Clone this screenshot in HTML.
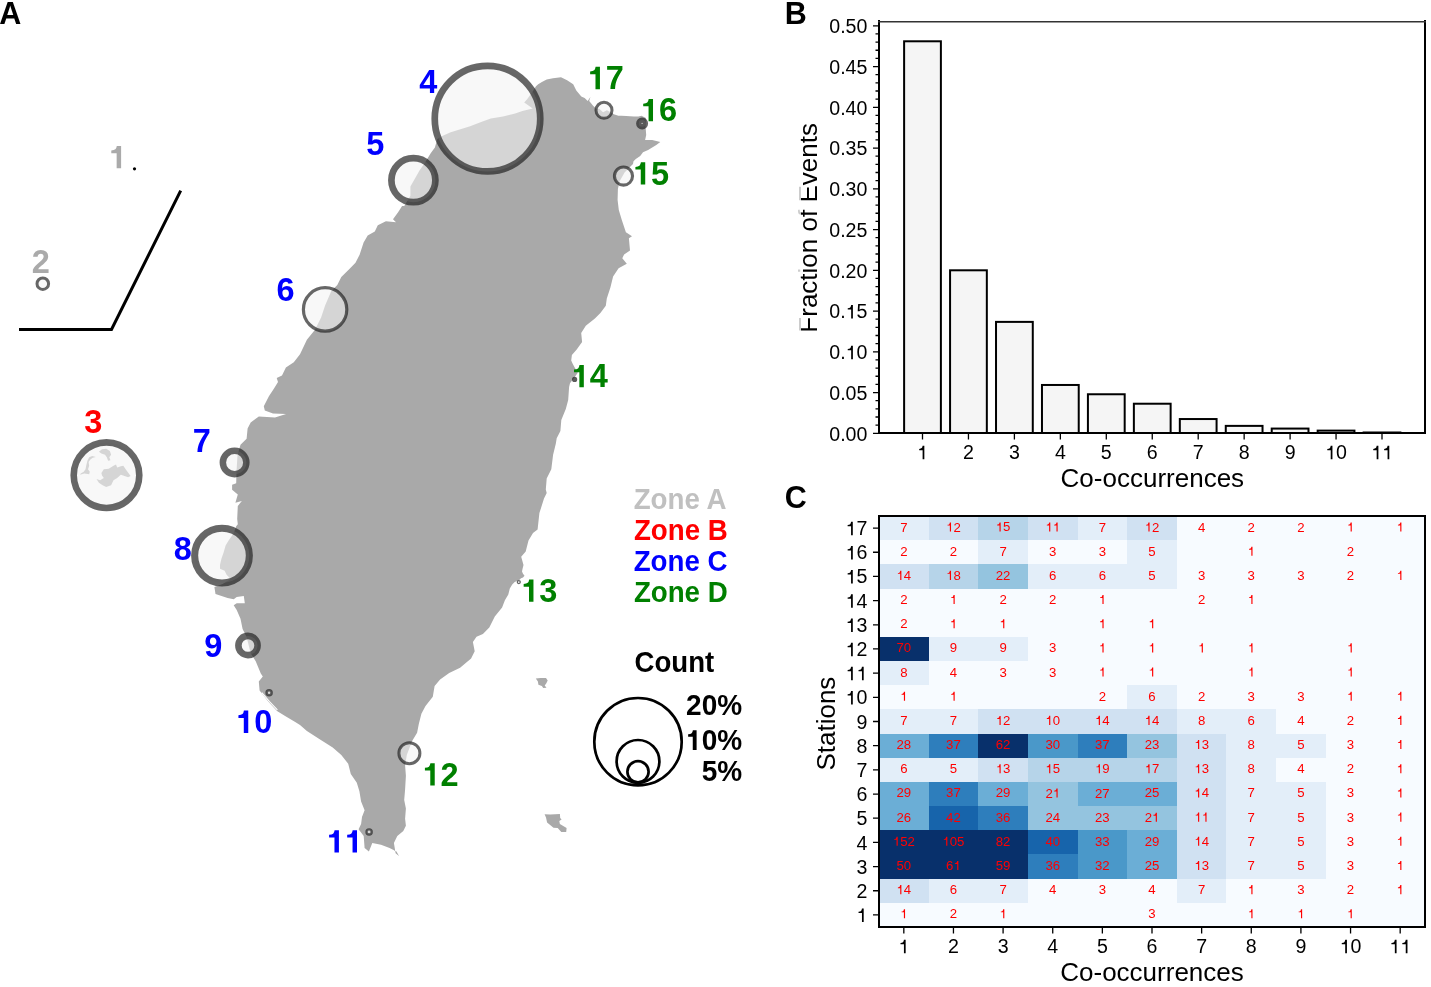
<!DOCTYPE html><html><head><meta charset="utf-8"><style>html,body{margin:0;padding:0;background:#fff;width:1431px;height:987px;overflow:hidden}</style></head><body><svg width="1431" height="987" viewBox="0 0 1431 987" style="display:block;will-change:transform" font-family="Liberation Sans, sans-serif">
<rect width="1431" height="987" fill="#fff"/>
<text x="-0.84" y="24.04" font-size="30.50" font-weight="bold" fill="#000">A</text>
<text x="784.76" y="24.04" font-size="30.50" font-weight="bold" fill="#000">B</text>
<text x="784.73" y="508.45" font-size="30.50" font-weight="bold" fill="#000">C</text>
<path d="M536.0,86.3 L538.2,84.3 L541.9,81.9 L546.7,79.5 L553.0,78.2 L561.0,77.2 L567.1,80.3 L573.2,84.3 L576.3,90.4 L581.3,96.5 L584.6,98.0 L587.7,101.1 L590.4,96.9 L589.2,101.1 L593.1,105.7 L596.1,108.8 L599.2,108.8 L603.1,112.3 L606.9,110.3 L610.7,112.3 L613.8,114.2 L618.4,115.7 L621.5,115.7 L626.1,116.1 L633.8,116.5 L638.4,116.5 L641.5,115.7 L646.0,118.0 L645.5,126.0 L646.2,135.0 L645.1,140.0 L652.2,140.0 L660.3,142.1 L656.3,145.1 L648.1,150.0 L643.0,152.2 L640.2,156.1 L635.8,158.9 L633.5,161.2 L633.0,164.0 L630.2,166.8 L624.6,172.4 L619.6,181.3 L617.9,189.1 L617.6,200.0 L618.8,210.0 L621.8,220.1 L625.9,232.2 L632.0,236.3 L628.9,238.3 L630.0,250.5 L624.1,254.6 L622.3,258.2 L626.8,263.7 L618.6,268.3 L613.1,276.5 L610.4,287.4 L606.8,298.4 L605.8,305.7 L600.4,313.0 L594.9,318.4 L585.8,325.7 L581.2,333.0 L582.1,342.1 L576.7,349.4 L571.9,355.0 L571.2,360.5 L572.8,364.1 L575.1,368.2 L577.8,372.8 L574.6,377.3 L570.0,383.3 L569.1,386.9 L568.2,400.0 L565.8,409.1 L561.3,420.1 L560.4,431.0 L556.7,438.3 L555.8,443.8 L553.1,454.7 L551.3,469.3 L546.7,478.4 L545.8,489.4 L546.7,493.0 L544.0,498.5 L539.4,513.1 L537.6,529.5 L533.0,533.1 L528.5,540.4 L525.7,551.4 L521.2,556.8 L523.5,565.0 L522.5,568.9 L522.0,571.4 L523.0,573.8 L524.5,575.8 L523.0,577.5 L521.0,578.2 L519.6,579.7 L514.7,582.1 L512.2,584.6 L509.8,588.5 L508.3,594.4 L504.9,600.2 L502.1,607.5 L494.8,616.6 L489.3,627.5 L482.9,633.9 L476.5,636.7 L472.9,642.1 L474.7,651.3 L471.1,658.5 L460.1,667.7 L449.2,673.1 L440.1,679.5 L434.6,685.9 L432.8,696.8 L425.5,706.0 L421.4,713.8 L418.8,724.1 L417.1,732.7 L412.0,741.3 L406.8,755.1 L405.1,765.5 L405.9,775.8 L405.1,789.6 L404.2,799.9 L405.9,808.5 L405.1,818.8 L405.9,825.7 L403.3,830.9 L397.3,836.1 L393.9,843.0 L395.6,853.3 L399.0,855.9 L396.5,851.6 L389.6,848.1 L381.0,844.7 L372.3,843.0 L368.9,851.6 L364.6,848.1 L363.7,836.1 L358.6,829.2 L361.1,824.0 L362.0,817.1 L364.6,810.2 L361.1,801.6 L359.4,791.3 L356.8,782.7 L350.8,774.1 L348.2,763.7 L341.3,755.1 L332.7,747.4 L318.9,738.8 L306.9,731.0 L300.0,725.0 L295.2,722.1 L285.1,716.0 L277.0,711.0 L268.0,701.2 L259.6,690.4 L258.8,681.6 L262.8,676.5 L260.8,673.5 L255.7,661.3 L250.7,653.2 L246.6,637.0 L242.6,628.9 L240.5,618.8 L236.7,610.0 L233.7,605.2 L236.7,603.2 L244.8,603.2 L243.8,596.1 L236.7,597.1 L233.7,599.2 L227.6,598.1 L215.5,594.1 L214.4,587.0 L222.6,584.0 L230.7,578.9 L226.6,574.8 L224.6,570.8 L220.0,568.8 L220.0,564.7 L221.5,558.6 L223.6,552.6 L225.6,545.5 L228.6,540.4 L233.7,533.3 L236.2,526.2 L237.8,524.2 L237.2,519.1 L237.8,505.9 L241.8,501.0 L235.4,502.7 L237.8,494.6 L232.1,489.7 L232.1,484.8 L236.2,483.2 L236.5,471.2 L237.5,455.0 L240.5,444.8 L246.6,438.8 L247.6,428.6 L250.7,422.6 L258.8,416.5 L275.0,417.5 L286.1,414.0 L273.0,413.4 L264.8,410.4 L263.8,406.3 L268.9,396.2 L274.0,388.5 L278.0,382.0 L276.7,378.0 L282.0,375.4 L285.9,367.5 L293.8,362.2 L300.0,354.3 L306.9,339.8 L315.0,329.7 L321.1,317.5 L325.1,305.4 L331.2,291.2 L337.3,285.1 L341.3,277.0 L349.4,268.9 L355.5,262.8 L359.6,254.7 L363.6,242.6 L367.7,235.5 L374.8,231.4 L377.8,225.3 L385.9,221.3 L396.0,222.3 L393.0,219.3 L398.1,212.2 L402.1,206.1 L404.3,205.9 L410.4,195.8 L410.4,186.6 L414.4,179.6 L419.5,170.4 L424.6,163.3 L430.7,153.2 L434.9,147.5 L437.3,139.0 L442.2,136.0 L450.7,132.3 L460.4,129.3 L470.1,126.3 L481.1,122.0 L490.8,118.4 L503.0,116.5 L515.1,113.5 L522.4,111.1 L532.7,108.6 L524.2,102.6 L527.3,98.9 L533.3,90.4 Z" fill="#a9a9a9"/>
<path d="M535.8,678.6 L540.6,678.1 L546.0,677.9 L547.7,680.4 L546.2,683.4 L544.7,685.5 L546.5,687.7 L543.2,688.0 L541.9,686.0 L538.4,684.7 L537.9,681.4 Z" fill="#a9a9a9"/>
<path d="M544.6,814.2 L550.3,814.6 L559.9,813.9 L560.2,818.1 L561.6,819.4 L559.3,821.0 L559.9,824.1 L566.6,828.0 L566.2,832.0 L561.3,832.0 L557.7,828.0 L553.5,827.7 L547.1,822.4 L546.0,817.4 Z" fill="#a9a9a9"/>
<path d="M80.1,474.8 L84.3,473.6 L89.2,474.2 L89.8,471.8 L88.0,469.3 L89.2,465.7 L88.6,462.0 L90.4,459.6 L92.8,457.8 L95.9,456.9 L92.2,456.0 L89.2,457.2 L87.4,460.8 L86.2,465.7 L85.5,469.3 L83.7,471.8 L80.7,473.6 Z" fill="#a9a9a9"/>
<path d="M98.9,451.7 L102.0,449.3 L106.2,448.7 L109.9,451.1 L111.1,454.7 L109.3,457.2 L110.5,460.2 L108.1,460.8 L106.8,457.2 L105.0,454.7 L101.4,453.5 Z" fill="#a9a9a9"/>
<path d="M101.4,473.0 L103.8,469.3 L108.7,468.7 L113.5,465.7 L116.0,464.5 L117.2,467.5 L120.8,466.3 L123.3,465.7 L125.7,469.3 L127.5,471.8 L130.6,476.0 L128.1,477.3 L124.5,476.0 L120.8,474.8 L117.2,477.9 L113.5,480.3 L111.1,485.2 L106.2,487.0 L102.6,485.2 L98.9,482.7 L96.5,479.1 L100.1,480.3 L103.8,477.9 L102.0,475.4 Z" fill="#a9a9a9"/>
<polyline points="261.8,692.6 269.5,701.6 277.4,709.8" fill="none" stroke="#fff" stroke-width="1.1"/>
<polyline points="19,329.4 111.5,329.4 180.7,190.6" fill="none" stroke="#000" stroke-width="3" stroke-linejoin="miter"/>
<circle cx="42.8" cy="283.7" r="5.8" fill="rgb(243,243,243)" fill-opacity="0.6" stroke="rgb(28,28,28)" stroke-opacity="0.67" stroke-width="3.0"/>
<circle cx="106.5" cy="475.2" r="32.8" fill="rgb(243,243,243)" fill-opacity="0.6" stroke="rgb(28,28,28)" stroke-opacity="0.67" stroke-width="6.6"/>
<circle cx="487.5" cy="118.7" r="52.75" fill="rgb(243,243,243)" fill-opacity="0.6" stroke="rgb(28,28,28)" stroke-opacity="0.67" stroke-width="6.7"/>
<circle cx="413.4" cy="180.2" r="22.0" fill="rgb(243,243,243)" fill-opacity="0.6" stroke="rgb(28,28,28)" stroke-opacity="0.67" stroke-width="6.7"/>
<circle cx="325.1" cy="309.4" r="21.7" fill="rgb(243,243,243)" fill-opacity="0.6" stroke="rgb(28,28,28)" stroke-opacity="0.67" stroke-width="3.2"/>
<circle cx="234.6" cy="462.5" r="11.75" fill="rgb(243,243,243)" fill-opacity="0.6" stroke="rgb(28,28,28)" stroke-opacity="0.67" stroke-width="6.5"/>
<circle cx="222.0" cy="555.6" r="27.35" fill="rgb(243,243,243)" fill-opacity="0.6" stroke="rgb(28,28,28)" stroke-opacity="0.67" stroke-width="7.1"/>
<circle cx="248.0" cy="645.5" r="9.6" fill="rgb(243,243,243)" fill-opacity="0.6" stroke="rgb(28,28,28)" stroke-opacity="0.67" stroke-width="6.6"/>
<circle cx="269.1" cy="692.7" r="2.5" fill="rgb(243,243,243)" fill-opacity="0.6" stroke="rgb(28,28,28)" stroke-opacity="0.67" stroke-width="2.5"/>
<circle cx="369.1" cy="831.9" r="2.6" fill="rgb(243,243,243)" fill-opacity="0.6" stroke="rgb(28,28,28)" stroke-opacity="0.67" stroke-width="2.3"/>
<circle cx="409.4" cy="753.2" r="10.5" fill="rgb(243,243,243)" fill-opacity="0.6" stroke="rgb(28,28,28)" stroke-opacity="0.67" stroke-width="3.0"/>
<circle cx="518.8" cy="582.1" r="1.5" fill="rgb(243,243,243)" fill-opacity="0.6" stroke="rgb(28,28,28)" stroke-opacity="0.67" stroke-width="1.3"/>
<circle cx="623.5" cy="176.1" r="9.05" fill="rgb(243,243,243)" fill-opacity="0.6" stroke="rgb(28,28,28)" stroke-opacity="0.67" stroke-width="3.1"/>
<circle cx="642.1" cy="123.4" r="3.3" fill="rgb(243,243,243)" fill-opacity="0.6" stroke="rgb(28,28,28)" stroke-opacity="0.67" stroke-width="5.4"/>
<circle cx="604.0" cy="110.3" r="8.0" fill="rgb(243,243,243)" fill-opacity="0.6" stroke="rgb(28,28,28)" stroke-opacity="0.67" stroke-width="3.0"/>
<circle cx="134.5" cy="168.8" r="1.6" fill="#000"/>
<circle cx="574.6" cy="379.4" r="2.6" fill="rgb(28,28,28)" fill-opacity="0.72"/>
<path d="M375,0 L238,0 L238,462 L73,462 L73,545 Q160,547 198,582 Q232,614 242,688 L375,688 Z" fill="#aaaaaa" transform="matrix(0.03250 0 0 -0.03250 108.92 168.28)"/>
<text x="31.65" y="273.15" font-size="32.50" font-weight="bold" fill="#aaaaaa">2</text>
<text x="84.33" y="432.71" font-size="32.50" font-weight="bold" fill="#ff0000">3</text>
<text x="419.25" y="92.68" font-size="32.50" font-weight="bold" fill="#0000ff">4</text>
<text x="366.26" y="155.17" font-size="32.50" font-weight="bold" fill="#0000ff">5</text>
<text x="276.50" y="300.59" font-size="32.50" font-weight="bold" fill="#0000ff">6</text>
<text x="192.68" y="452.23" font-size="32.50" font-weight="bold" fill="#0000ff">7</text>
<text x="173.80" y="560.04" font-size="32.50" font-weight="bold" fill="#0000ff">8</text>
<text x="204.35" y="656.54" font-size="32.50" font-weight="bold" fill="#0000ff">9</text>
<path d="M375,0 L238,0 L238,462 L73,462 L73,545 Q160,547 198,582 Q232,614 242,688 L375,688 Z" fill="#0000ff" transform="matrix(0.03250 0 0 -0.03250 236.06 732.94)"/><text x="254.13" y="732.94" font-size="32.50" font-weight="bold" fill="#0000ff">0</text>
<path d="M375,0 L238,0 L238,462 L73,462 L73,545 Q160,547 198,582 Q232,614 242,688 L375,688 Z" fill="#0000ff" transform="matrix(0.03250 0 0 -0.03250 326.73 852.58)"/><path d="M375,0 L238,0 L238,462 L73,462 L73,545 Q160,547 198,582 Q232,614 242,688 L375,688 Z" fill="#0000ff" transform="matrix(0.03250 0 0 -0.03250 344.81 852.58)"/>
<path d="M375,0 L238,0 L238,462 L73,462 L73,545 Q160,547 198,582 Q232,614 242,688 L375,688 Z" fill="#008000" transform="matrix(0.03250 0 0 -0.03250 422.54 785.55)"/><text x="440.61" y="785.55" font-size="32.50" font-weight="bold" fill="#008000">2</text>
<path d="M375,0 L238,0 L238,462 L73,462 L73,545 Q160,547 198,582 Q232,614 242,688 L375,688 Z" fill="#008000" transform="matrix(0.03250 0 0 -0.03250 521.28 601.76)"/><text x="539.35" y="601.76" font-size="32.50" font-weight="bold" fill="#008000">3</text>
<path d="M375,0 L238,0 L238,462 L73,462 L73,545 Q160,547 198,582 Q232,614 242,688 L375,688 Z" fill="#008000" transform="matrix(0.03250 0 0 -0.03250 571.63 387.33)"/><text x="589.70" y="387.33" font-size="32.50" font-weight="bold" fill="#008000">4</text>
<path d="M375,0 L238,0 L238,462 L73,462 L73,545 Q160,547 198,582 Q232,614 242,688 L375,688 Z" fill="#008000" transform="matrix(0.03250 0 0 -0.03250 633.04 184.62)"/><text x="651.12" y="184.62" font-size="32.50" font-weight="bold" fill="#008000">5</text>
<path d="M375,0 L238,0 L238,462 L73,462 L73,545 Q160,547 198,582 Q232,614 242,688 L375,688 Z" fill="#008000" transform="matrix(0.03250 0 0 -0.03250 640.83 121.34)"/><text x="658.90" y="121.34" font-size="32.50" font-weight="bold" fill="#008000">6</text>
<path d="M375,0 L238,0 L238,462 L73,462 L73,545 Q160,547 198,582 Q232,614 242,688 L375,688 Z" fill="#008000" transform="matrix(0.03250 0 0 -0.03250 587.75 89.23)"/><text x="605.83" y="89.23" font-size="32.50" font-weight="bold" fill="#008000">7</text>
<text x="633.67" y="508.76" font-size="27.70" font-weight="bold" fill="#c0c0c0" transform="matrix(1 0 0 1.06 0 -30.525)">Zone A</text>
<text x="633.93" y="540.16" font-size="27.70" font-weight="bold" fill="#ff0000" transform="matrix(1 0 0 1.06 0 -32.409)">Zone B</text>
<text x="633.68" y="571.16" font-size="27.70" font-weight="bold" fill="#0000ff" transform="matrix(1 0 0 1.06 0 -34.269)">Zone C</text>
<text x="633.89" y="601.91" font-size="27.70" font-weight="bold" fill="#008000" transform="matrix(1 0 0 1.06 0 -36.114)">Zone D</text>
<text x="634.55" y="672.47" font-size="27.60" font-weight="bold" fill="#000" transform="matrix(1 0 0 1.07 0 -47.073)">Count</text>
<text x="686.10" y="715.18" font-size="28.00" font-weight="bold" fill="#000" transform="matrix(1 0 0 1.03 0 -21.455)">20%</text>
<path d="M375,0 L238,0 L238,462 L73,462 L73,545 Q160,547 198,582 Q232,614 242,688 L375,688 Z" fill="#000" transform="matrix(0.02800 0 0 -0.02884 686.10 749.98)"/><text x="701.67" y="749.98" font-size="28.00" font-weight="bold" fill="#000" transform="matrix(1 0 0 1.03 0 -22.499)">0%</text>
<text x="701.67" y="780.74" font-size="28.00" font-weight="bold" fill="#000" transform="matrix(1 0 0 1.03 0 -23.422)">5%</text>
<circle cx="638" cy="741.7" r="43.7" fill="none" stroke="#000" stroke-width="2.7"/>
<circle cx="638" cy="761.4" r="21.4" fill="none" stroke="#000" stroke-width="2.7"/>
<circle cx="638" cy="771.8" r="10.6" fill="none" stroke="#000" stroke-width="2.7"/>
<rect x="904.12" y="41.29" width="36.76" height="391.71" fill="#f5f5f5" stroke="#000" stroke-width="2"/>
<rect x="950.07" y="270.30" width="36.76" height="162.70" fill="#f5f5f5" stroke="#000" stroke-width="2"/>
<rect x="996.02" y="321.89" width="36.76" height="111.11" fill="#f5f5f5" stroke="#000" stroke-width="2"/>
<rect x="1041.97" y="384.97" width="36.76" height="48.03" fill="#f5f5f5" stroke="#000" stroke-width="2"/>
<rect x="1087.92" y="394.26" width="36.76" height="38.74" fill="#f5f5f5" stroke="#000" stroke-width="2"/>
<rect x="1133.87" y="403.72" width="36.76" height="29.28" fill="#f5f5f5" stroke="#000" stroke-width="2"/>
<rect x="1179.82" y="419.04" width="36.76" height="13.96" fill="#f5f5f5" stroke="#000" stroke-width="2"/>
<rect x="1225.77" y="425.88" width="36.76" height="7.12" fill="#f5f5f5" stroke="#000" stroke-width="2"/>
<rect x="1271.72" y="428.57" width="36.76" height="4.43" fill="#f5f5f5" stroke="#000" stroke-width="2"/>
<rect x="1317.67" y="430.61" width="36.76" height="2.39" fill="#f5f5f5" stroke="#000" stroke-width="2"/>
<rect x="1363.62" y="432.49" width="36.76" height="0.51" fill="#f5f5f5" stroke="#000" stroke-width="2"/>
<path d="M879,21 V433 H1425 V21" fill="none" stroke="#000" stroke-width="2" stroke-linecap="square"/>
<path d="M878,21.8 H1426" stroke="#333" stroke-width="1.6"/>
<path d="M873,433.30H879M875.5,425.15H879M875.5,417.00H879M875.5,408.85H879M875.5,400.70H879M873,392.55H879M875.5,384.40H879M875.5,376.25H879M875.5,368.10H879M875.5,359.95H879M873,351.80H879M875.5,343.65H879M875.5,335.50H879M875.5,327.35H879M875.5,319.20H879M873,311.05H879M875.5,302.90H879M875.5,294.75H879M875.5,286.60H879M875.5,278.45H879M873,270.30H879M875.5,262.15H879M875.5,254.00H879M875.5,245.85H879M875.5,237.70H879M873,229.55H879M875.5,221.40H879M875.5,213.25H879M875.5,205.10H879M875.5,196.95H879M873,188.80H879M875.5,180.65H879M875.5,172.50H879M875.5,164.35H879M875.5,156.20H879M873,148.05H879M875.5,139.90H879M875.5,131.75H879M875.5,123.60H879M875.5,115.45H879M873,107.30H879M875.5,99.15H879M875.5,91.00H879M875.5,82.85H879M875.5,74.70H879M873,66.55H879M875.5,58.40H879M875.5,50.25H879M875.5,42.10H879M875.5,33.95H879M873,25.80H879" stroke="#000" stroke-width="1.3" fill="none"/>
<path d="M922.50,433V439.5M968.45,433V439.5M1014.40,433V439.5M1060.35,433V439.5M1106.30,433V439.5M1152.25,433V439.5M1198.20,433V439.5M1244.15,433V439.5M1290.10,433V439.5M1336.05,433V439.5M1382.00,433V439.5" stroke="#000" stroke-width="1.3" fill="none"/>
<text x="829.25" y="440.65" font-size="19.60" font-weight="normal" fill="#000">0.00</text>
<text x="829.25" y="399.90" font-size="19.60" font-weight="normal" fill="#000">0.05</text>
<text x="829.25" y="359.15" font-size="19.60" font-weight="normal" fill="#000">0.</text><path d="M372,0 L284,0 L284,458 L109,458 L109,520 Q196,524 236,562 Q272,598 284,688 L372,688 Z" fill="#000" transform="matrix(0.01960 0 0 -0.01960 845.60 359.15)"/><text x="856.50" y="359.15" font-size="19.60" font-weight="normal" fill="#000">0</text>
<text x="829.25" y="318.40" font-size="19.60" font-weight="normal" fill="#000">0.</text><path d="M372,0 L284,0 L284,458 L109,458 L109,520 Q196,524 236,562 Q272,598 284,688 L372,688 Z" fill="#000" transform="matrix(0.01960 0 0 -0.01960 845.60 318.40)"/><text x="856.50" y="318.40" font-size="19.60" font-weight="normal" fill="#000">5</text>
<text x="829.25" y="277.65" font-size="19.60" font-weight="normal" fill="#000">0.20</text>
<text x="829.25" y="236.90" font-size="19.60" font-weight="normal" fill="#000">0.25</text>
<text x="829.25" y="196.15" font-size="19.60" font-weight="normal" fill="#000">0.30</text>
<text x="829.25" y="155.40" font-size="19.60" font-weight="normal" fill="#000">0.35</text>
<text x="829.25" y="114.65" font-size="19.60" font-weight="normal" fill="#000">0.40</text>
<text x="829.25" y="73.90" font-size="19.60" font-weight="normal" fill="#000">0.45</text>
<text x="829.25" y="33.15" font-size="19.60" font-weight="normal" fill="#000">0.50</text>
<path d="M372,0 L284,0 L284,458 L109,458 L109,520 Q196,524 236,562 Q272,598 284,688 L372,688 Z" fill="#000" transform="matrix(0.01960 0 0 -0.01960 917.05 459.14)"/>
<text x="963.00" y="459.24" font-size="19.60" font-weight="normal" fill="#000">2</text>
<text x="1008.95" y="459.15" font-size="19.60" font-weight="normal" fill="#000">3</text>
<text x="1054.90" y="459.14" font-size="19.60" font-weight="normal" fill="#000">4</text>
<text x="1100.85" y="459.05" font-size="19.60" font-weight="normal" fill="#000">5</text>
<text x="1146.80" y="459.15" font-size="19.60" font-weight="normal" fill="#000">6</text>
<text x="1192.75" y="459.14" font-size="19.60" font-weight="normal" fill="#000">7</text>
<text x="1238.70" y="459.15" font-size="19.60" font-weight="normal" fill="#000">8</text>
<text x="1284.65" y="459.15" font-size="19.60" font-weight="normal" fill="#000">9</text>
<path d="M372,0 L284,0 L284,458 L109,458 L109,520 Q196,524 236,562 Q272,598 284,688 L372,688 Z" fill="#000" transform="matrix(0.01960 0 0 -0.01960 1325.15 459.15)"/><text x="1336.05" y="459.15" font-size="19.60" font-weight="normal" fill="#000">0</text>
<path d="M372,0 L284,0 L284,458 L109,458 L109,520 Q196,524 236,562 Q272,598 284,688 L372,688 Z" fill="#000" transform="matrix(0.01960 0 0 -0.01960 1371.10 459.14)"/><path d="M372,0 L284,0 L284,458 L109,458 L109,520 Q196,524 236,562 Q272,598 284,688 L372,688 Z" fill="#000" transform="matrix(0.01960 0 0 -0.01960 1382.00 459.14)"/>
<text x="1060.60" y="487.35" font-size="26.00" font-weight="normal" fill="#000">Co-occurrences</text>
<g transform="translate(816.7,227.30) rotate(-90)"><text x="-105.36" y="0" font-size="26.0">Fraction of Events</text></g>
<rect x="790" y="110" width="11" height="230" fill="#fff" fill-opacity="0.8"/>
<g shape-rendering="crispEdges"><rect x="879.00" y="516.00" width="49.94" height="24.48" fill="#e3eef9"/><rect x="928.64" y="516.00" width="49.94" height="24.48" fill="#d0e1f2"/><rect x="978.27" y="516.00" width="49.94" height="24.48" fill="#b6d4e9"/><rect x="1027.91" y="516.00" width="49.94" height="24.48" fill="#d0e1f2"/><rect x="1077.55" y="516.00" width="49.94" height="24.48" fill="#e3eef9"/><rect x="1127.18" y="516.00" width="49.94" height="24.48" fill="#d0e1f2"/><rect x="1176.82" y="516.00" width="49.94" height="24.48" fill="#f7fbff"/><rect x="1226.45" y="516.00" width="49.94" height="24.48" fill="#f7fbff"/><rect x="1276.09" y="516.00" width="49.94" height="24.48" fill="#f7fbff"/><rect x="1325.73" y="516.00" width="49.94" height="24.48" fill="#f7fbff"/><rect x="1375.36" y="516.00" width="49.94" height="24.48" fill="#f7fbff"/><rect x="879.00" y="540.18" width="49.94" height="24.48" fill="#f7fbff"/><rect x="928.64" y="540.18" width="49.94" height="24.48" fill="#f7fbff"/><rect x="978.27" y="540.18" width="49.94" height="24.48" fill="#e3eef9"/><rect x="1027.91" y="540.18" width="49.94" height="24.48" fill="#f7fbff"/><rect x="1077.55" y="540.18" width="49.94" height="24.48" fill="#f7fbff"/><rect x="1127.18" y="540.18" width="49.94" height="24.48" fill="#e3eef9"/><rect x="1176.82" y="540.18" width="49.94" height="24.48" fill="#f7fbff"/><rect x="1226.45" y="540.18" width="49.94" height="24.48" fill="#f7fbff"/><rect x="1276.09" y="540.18" width="49.94" height="24.48" fill="#f7fbff"/><rect x="1325.73" y="540.18" width="49.94" height="24.48" fill="#f7fbff"/><rect x="1375.36" y="540.18" width="49.94" height="24.48" fill="#f7fbff"/><rect x="879.00" y="564.35" width="49.94" height="24.48" fill="#d0e1f2"/><rect x="928.64" y="564.35" width="49.94" height="24.48" fill="#b6d4e9"/><rect x="978.27" y="564.35" width="49.94" height="24.48" fill="#94c4df"/><rect x="1027.91" y="564.35" width="49.94" height="24.48" fill="#e3eef9"/><rect x="1077.55" y="564.35" width="49.94" height="24.48" fill="#e3eef9"/><rect x="1127.18" y="564.35" width="49.94" height="24.48" fill="#e3eef9"/><rect x="1176.82" y="564.35" width="49.94" height="24.48" fill="#f7fbff"/><rect x="1226.45" y="564.35" width="49.94" height="24.48" fill="#f7fbff"/><rect x="1276.09" y="564.35" width="49.94" height="24.48" fill="#f7fbff"/><rect x="1325.73" y="564.35" width="49.94" height="24.48" fill="#f7fbff"/><rect x="1375.36" y="564.35" width="49.94" height="24.48" fill="#f7fbff"/><rect x="879.00" y="588.53" width="49.94" height="24.48" fill="#f7fbff"/><rect x="928.64" y="588.53" width="49.94" height="24.48" fill="#f7fbff"/><rect x="978.27" y="588.53" width="49.94" height="24.48" fill="#f7fbff"/><rect x="1027.91" y="588.53" width="49.94" height="24.48" fill="#f7fbff"/><rect x="1077.55" y="588.53" width="49.94" height="24.48" fill="#f7fbff"/><rect x="1127.18" y="588.53" width="49.94" height="24.48" fill="#f7fbff"/><rect x="1176.82" y="588.53" width="49.94" height="24.48" fill="#f7fbff"/><rect x="1226.45" y="588.53" width="49.94" height="24.48" fill="#f7fbff"/><rect x="1276.09" y="588.53" width="49.94" height="24.48" fill="#f7fbff"/><rect x="1325.73" y="588.53" width="49.94" height="24.48" fill="#f7fbff"/><rect x="1375.36" y="588.53" width="49.94" height="24.48" fill="#f7fbff"/><rect x="879.00" y="612.71" width="49.94" height="24.48" fill="#f7fbff"/><rect x="928.64" y="612.71" width="49.94" height="24.48" fill="#f7fbff"/><rect x="978.27" y="612.71" width="49.94" height="24.48" fill="#f7fbff"/><rect x="1027.91" y="612.71" width="49.94" height="24.48" fill="#f7fbff"/><rect x="1077.55" y="612.71" width="49.94" height="24.48" fill="#f7fbff"/><rect x="1127.18" y="612.71" width="49.94" height="24.48" fill="#f7fbff"/><rect x="1176.82" y="612.71" width="49.94" height="24.48" fill="#f7fbff"/><rect x="1226.45" y="612.71" width="49.94" height="24.48" fill="#f7fbff"/><rect x="1276.09" y="612.71" width="49.94" height="24.48" fill="#f7fbff"/><rect x="1325.73" y="612.71" width="49.94" height="24.48" fill="#f7fbff"/><rect x="1375.36" y="612.71" width="49.94" height="24.48" fill="#f7fbff"/><rect x="879.00" y="636.88" width="49.94" height="24.48" fill="#08306b"/><rect x="928.64" y="636.88" width="49.94" height="24.48" fill="#e3eef9"/><rect x="978.27" y="636.88" width="49.94" height="24.48" fill="#e3eef9"/><rect x="1027.91" y="636.88" width="49.94" height="24.48" fill="#f7fbff"/><rect x="1077.55" y="636.88" width="49.94" height="24.48" fill="#f7fbff"/><rect x="1127.18" y="636.88" width="49.94" height="24.48" fill="#f7fbff"/><rect x="1176.82" y="636.88" width="49.94" height="24.48" fill="#f7fbff"/><rect x="1226.45" y="636.88" width="49.94" height="24.48" fill="#f7fbff"/><rect x="1276.09" y="636.88" width="49.94" height="24.48" fill="#f7fbff"/><rect x="1325.73" y="636.88" width="49.94" height="24.48" fill="#f7fbff"/><rect x="1375.36" y="636.88" width="49.94" height="24.48" fill="#f7fbff"/><rect x="879.00" y="661.06" width="49.94" height="24.48" fill="#e3eef9"/><rect x="928.64" y="661.06" width="49.94" height="24.48" fill="#f7fbff"/><rect x="978.27" y="661.06" width="49.94" height="24.48" fill="#f7fbff"/><rect x="1027.91" y="661.06" width="49.94" height="24.48" fill="#f7fbff"/><rect x="1077.55" y="661.06" width="49.94" height="24.48" fill="#f7fbff"/><rect x="1127.18" y="661.06" width="49.94" height="24.48" fill="#f7fbff"/><rect x="1176.82" y="661.06" width="49.94" height="24.48" fill="#f7fbff"/><rect x="1226.45" y="661.06" width="49.94" height="24.48" fill="#f7fbff"/><rect x="1276.09" y="661.06" width="49.94" height="24.48" fill="#f7fbff"/><rect x="1325.73" y="661.06" width="49.94" height="24.48" fill="#f7fbff"/><rect x="1375.36" y="661.06" width="49.94" height="24.48" fill="#f7fbff"/><rect x="879.00" y="685.24" width="49.94" height="24.48" fill="#f7fbff"/><rect x="928.64" y="685.24" width="49.94" height="24.48" fill="#f7fbff"/><rect x="978.27" y="685.24" width="49.94" height="24.48" fill="#f7fbff"/><rect x="1027.91" y="685.24" width="49.94" height="24.48" fill="#f7fbff"/><rect x="1077.55" y="685.24" width="49.94" height="24.48" fill="#f7fbff"/><rect x="1127.18" y="685.24" width="49.94" height="24.48" fill="#e3eef9"/><rect x="1176.82" y="685.24" width="49.94" height="24.48" fill="#f7fbff"/><rect x="1226.45" y="685.24" width="49.94" height="24.48" fill="#f7fbff"/><rect x="1276.09" y="685.24" width="49.94" height="24.48" fill="#f7fbff"/><rect x="1325.73" y="685.24" width="49.94" height="24.48" fill="#f7fbff"/><rect x="1375.36" y="685.24" width="49.94" height="24.48" fill="#f7fbff"/><rect x="879.00" y="709.41" width="49.94" height="24.48" fill="#e3eef9"/><rect x="928.64" y="709.41" width="49.94" height="24.48" fill="#e3eef9"/><rect x="978.27" y="709.41" width="49.94" height="24.48" fill="#d0e1f2"/><rect x="1027.91" y="709.41" width="49.94" height="24.48" fill="#d0e1f2"/><rect x="1077.55" y="709.41" width="49.94" height="24.48" fill="#d0e1f2"/><rect x="1127.18" y="709.41" width="49.94" height="24.48" fill="#d0e1f2"/><rect x="1176.82" y="709.41" width="49.94" height="24.48" fill="#e3eef9"/><rect x="1226.45" y="709.41" width="49.94" height="24.48" fill="#e3eef9"/><rect x="1276.09" y="709.41" width="49.94" height="24.48" fill="#f7fbff"/><rect x="1325.73" y="709.41" width="49.94" height="24.48" fill="#f7fbff"/><rect x="1375.36" y="709.41" width="49.94" height="24.48" fill="#f7fbff"/><rect x="879.00" y="733.59" width="49.94" height="24.48" fill="#6baed6"/><rect x="928.64" y="733.59" width="49.94" height="24.48" fill="#2e7ebc"/><rect x="978.27" y="733.59" width="49.94" height="24.48" fill="#08306b"/><rect x="1027.91" y="733.59" width="49.94" height="24.48" fill="#4a98c9"/><rect x="1077.55" y="733.59" width="49.94" height="24.48" fill="#2e7ebc"/><rect x="1127.18" y="733.59" width="49.94" height="24.48" fill="#94c4df"/><rect x="1176.82" y="733.59" width="49.94" height="24.48" fill="#d0e1f2"/><rect x="1226.45" y="733.59" width="49.94" height="24.48" fill="#e3eef9"/><rect x="1276.09" y="733.59" width="49.94" height="24.48" fill="#e3eef9"/><rect x="1325.73" y="733.59" width="49.94" height="24.48" fill="#f7fbff"/><rect x="1375.36" y="733.59" width="49.94" height="24.48" fill="#f7fbff"/><rect x="879.00" y="757.76" width="49.94" height="24.48" fill="#e3eef9"/><rect x="928.64" y="757.76" width="49.94" height="24.48" fill="#e3eef9"/><rect x="978.27" y="757.76" width="49.94" height="24.48" fill="#d0e1f2"/><rect x="1027.91" y="757.76" width="49.94" height="24.48" fill="#b6d4e9"/><rect x="1077.55" y="757.76" width="49.94" height="24.48" fill="#b6d4e9"/><rect x="1127.18" y="757.76" width="49.94" height="24.48" fill="#b6d4e9"/><rect x="1176.82" y="757.76" width="49.94" height="24.48" fill="#d0e1f2"/><rect x="1226.45" y="757.76" width="49.94" height="24.48" fill="#e3eef9"/><rect x="1276.09" y="757.76" width="49.94" height="24.48" fill="#f7fbff"/><rect x="1325.73" y="757.76" width="49.94" height="24.48" fill="#f7fbff"/><rect x="1375.36" y="757.76" width="49.94" height="24.48" fill="#f7fbff"/><rect x="879.00" y="781.94" width="49.94" height="24.48" fill="#6baed6"/><rect x="928.64" y="781.94" width="49.94" height="24.48" fill="#2e7ebc"/><rect x="978.27" y="781.94" width="49.94" height="24.48" fill="#6baed6"/><rect x="1027.91" y="781.94" width="49.94" height="24.48" fill="#94c4df"/><rect x="1077.55" y="781.94" width="49.94" height="24.48" fill="#6baed6"/><rect x="1127.18" y="781.94" width="49.94" height="24.48" fill="#6baed6"/><rect x="1176.82" y="781.94" width="49.94" height="24.48" fill="#d0e1f2"/><rect x="1226.45" y="781.94" width="49.94" height="24.48" fill="#e3eef9"/><rect x="1276.09" y="781.94" width="49.94" height="24.48" fill="#e3eef9"/><rect x="1325.73" y="781.94" width="49.94" height="24.48" fill="#f7fbff"/><rect x="1375.36" y="781.94" width="49.94" height="24.48" fill="#f7fbff"/><rect x="879.00" y="806.12" width="49.94" height="24.48" fill="#6baed6"/><rect x="928.64" y="806.12" width="49.94" height="24.48" fill="#1764ab"/><rect x="978.27" y="806.12" width="49.94" height="24.48" fill="#2e7ebc"/><rect x="1027.91" y="806.12" width="49.94" height="24.48" fill="#94c4df"/><rect x="1077.55" y="806.12" width="49.94" height="24.48" fill="#94c4df"/><rect x="1127.18" y="806.12" width="49.94" height="24.48" fill="#94c4df"/><rect x="1176.82" y="806.12" width="49.94" height="24.48" fill="#d0e1f2"/><rect x="1226.45" y="806.12" width="49.94" height="24.48" fill="#e3eef9"/><rect x="1276.09" y="806.12" width="49.94" height="24.48" fill="#e3eef9"/><rect x="1325.73" y="806.12" width="49.94" height="24.48" fill="#f7fbff"/><rect x="1375.36" y="806.12" width="49.94" height="24.48" fill="#f7fbff"/><rect x="879.00" y="830.29" width="49.94" height="24.48" fill="#08306b"/><rect x="928.64" y="830.29" width="49.94" height="24.48" fill="#08306b"/><rect x="978.27" y="830.29" width="49.94" height="24.48" fill="#08306b"/><rect x="1027.91" y="830.29" width="49.94" height="24.48" fill="#1764ab"/><rect x="1077.55" y="830.29" width="49.94" height="24.48" fill="#4a98c9"/><rect x="1127.18" y="830.29" width="49.94" height="24.48" fill="#6baed6"/><rect x="1176.82" y="830.29" width="49.94" height="24.48" fill="#d0e1f2"/><rect x="1226.45" y="830.29" width="49.94" height="24.48" fill="#e3eef9"/><rect x="1276.09" y="830.29" width="49.94" height="24.48" fill="#e3eef9"/><rect x="1325.73" y="830.29" width="49.94" height="24.48" fill="#f7fbff"/><rect x="1375.36" y="830.29" width="49.94" height="24.48" fill="#f7fbff"/><rect x="879.00" y="854.47" width="49.94" height="24.48" fill="#08306b"/><rect x="928.64" y="854.47" width="49.94" height="24.48" fill="#08306b"/><rect x="978.27" y="854.47" width="49.94" height="24.48" fill="#08306b"/><rect x="1027.91" y="854.47" width="49.94" height="24.48" fill="#2e7ebc"/><rect x="1077.55" y="854.47" width="49.94" height="24.48" fill="#4a98c9"/><rect x="1127.18" y="854.47" width="49.94" height="24.48" fill="#6baed6"/><rect x="1176.82" y="854.47" width="49.94" height="24.48" fill="#d0e1f2"/><rect x="1226.45" y="854.47" width="49.94" height="24.48" fill="#e3eef9"/><rect x="1276.09" y="854.47" width="49.94" height="24.48" fill="#e3eef9"/><rect x="1325.73" y="854.47" width="49.94" height="24.48" fill="#f7fbff"/><rect x="1375.36" y="854.47" width="49.94" height="24.48" fill="#f7fbff"/><rect x="879.00" y="878.65" width="49.94" height="24.48" fill="#d0e1f2"/><rect x="928.64" y="878.65" width="49.94" height="24.48" fill="#e3eef9"/><rect x="978.27" y="878.65" width="49.94" height="24.48" fill="#e3eef9"/><rect x="1027.91" y="878.65" width="49.94" height="24.48" fill="#f7fbff"/><rect x="1077.55" y="878.65" width="49.94" height="24.48" fill="#f7fbff"/><rect x="1127.18" y="878.65" width="49.94" height="24.48" fill="#f7fbff"/><rect x="1176.82" y="878.65" width="49.94" height="24.48" fill="#e3eef9"/><rect x="1226.45" y="878.65" width="49.94" height="24.48" fill="#f7fbff"/><rect x="1276.09" y="878.65" width="49.94" height="24.48" fill="#f7fbff"/><rect x="1325.73" y="878.65" width="49.94" height="24.48" fill="#f7fbff"/><rect x="1375.36" y="878.65" width="49.94" height="24.48" fill="#f7fbff"/><rect x="879.00" y="902.82" width="49.94" height="24.48" fill="#f7fbff"/><rect x="928.64" y="902.82" width="49.94" height="24.48" fill="#f7fbff"/><rect x="978.27" y="902.82" width="49.94" height="24.48" fill="#f7fbff"/><rect x="1027.91" y="902.82" width="49.94" height="24.48" fill="#f7fbff"/><rect x="1077.55" y="902.82" width="49.94" height="24.48" fill="#f7fbff"/><rect x="1127.18" y="902.82" width="49.94" height="24.48" fill="#f7fbff"/><rect x="1176.82" y="902.82" width="49.94" height="24.48" fill="#f7fbff"/><rect x="1226.45" y="902.82" width="49.94" height="24.48" fill="#f7fbff"/><rect x="1276.09" y="902.82" width="49.94" height="24.48" fill="#f7fbff"/><rect x="1325.73" y="902.82" width="49.94" height="24.48" fill="#f7fbff"/><rect x="1375.36" y="902.82" width="49.94" height="24.48" fill="#f7fbff"/></g>
<text x="900.15" y="531.53" font-size="13.20" font-weight="normal" fill="#ff0000">7</text><path d="M372,0 L284,0 L284,458 L109,458 L109,520 Q196,524 236,562 Q272,598 284,688 L372,688 Z" fill="#ff0000" transform="matrix(0.01320 0 0 -0.01320 946.11 531.60)"/><text x="953.45" y="531.60" font-size="13.20" font-weight="normal" fill="#ff0000">2</text><path d="M372,0 L284,0 L284,458 L109,458 L109,520 Q196,524 236,562 Q272,598 284,688 L372,688 Z" fill="#ff0000" transform="matrix(0.01320 0 0 -0.01320 995.75 531.46)"/><text x="1003.09" y="531.46" font-size="13.20" font-weight="normal" fill="#ff0000">5</text><path d="M372,0 L284,0 L284,458 L109,458 L109,520 Q196,524 236,562 Q272,598 284,688 L372,688 Z" fill="#ff0000" transform="matrix(0.01320 0 0 -0.01320 1045.39 531.53)"/><path d="M372,0 L284,0 L284,458 L109,458 L109,520 Q196,524 236,562 Q272,598 284,688 L372,688 Z" fill="#ff0000" transform="matrix(0.01320 0 0 -0.01320 1052.73 531.53)"/><text x="1098.69" y="531.53" font-size="13.20" font-weight="normal" fill="#ff0000">7</text><path d="M372,0 L284,0 L284,458 L109,458 L109,520 Q196,524 236,562 Q272,598 284,688 L372,688 Z" fill="#ff0000" transform="matrix(0.01320 0 0 -0.01320 1144.66 531.60)"/><text x="1152.00" y="531.60" font-size="13.20" font-weight="normal" fill="#ff0000">2</text><text x="1197.97" y="531.53" font-size="13.20" font-weight="normal" fill="#ff0000">4</text><text x="1247.60" y="531.60" font-size="13.20" font-weight="normal" fill="#ff0000">2</text><text x="1297.24" y="531.60" font-size="13.20" font-weight="normal" fill="#ff0000">2</text><path d="M372,0 L284,0 L284,458 L109,458 L109,520 Q196,524 236,562 Q272,598 284,688 L372,688 Z" fill="#ff0000" transform="matrix(0.01320 0 0 -0.01320 1346.87 531.53)"/><path d="M372,0 L284,0 L284,458 L109,458 L109,520 Q196,524 236,562 Q272,598 284,688 L372,688 Z" fill="#ff0000" transform="matrix(0.01320 0 0 -0.01320 1396.51 531.53)"/><text x="900.15" y="555.77" font-size="13.20" font-weight="normal" fill="#ff0000">2</text><text x="949.78" y="555.77" font-size="13.20" font-weight="normal" fill="#ff0000">2</text><text x="999.42" y="555.71" font-size="13.20" font-weight="normal" fill="#ff0000">7</text><text x="1049.06" y="555.71" font-size="13.20" font-weight="normal" fill="#ff0000">3</text><text x="1098.69" y="555.71" font-size="13.20" font-weight="normal" fill="#ff0000">3</text><text x="1148.33" y="555.64" font-size="13.20" font-weight="normal" fill="#ff0000">5</text><path d="M372,0 L284,0 L284,458 L109,458 L109,520 Q196,524 236,562 Q272,598 284,688 L372,688 Z" fill="#ff0000" transform="matrix(0.01320 0 0 -0.01320 1247.60 555.71)"/><text x="1346.87" y="555.77" font-size="13.20" font-weight="normal" fill="#ff0000">2</text><path d="M372,0 L284,0 L284,458 L109,458 L109,520 Q196,524 236,562 Q272,598 284,688 L372,688 Z" fill="#ff0000" transform="matrix(0.01320 0 0 -0.01320 896.48 579.88)"/><text x="903.82" y="579.88" font-size="13.20" font-weight="normal" fill="#ff0000">4</text><path d="M372,0 L284,0 L284,458 L109,458 L109,520 Q196,524 236,562 Q272,598 284,688 L372,688 Z" fill="#ff0000" transform="matrix(0.01320 0 0 -0.01320 946.11 579.89)"/><text x="953.45" y="579.89" font-size="13.20" font-weight="normal" fill="#ff0000">8</text><text x="995.75" y="579.95" font-size="13.20" font-weight="normal" fill="#ff0000">22</text><text x="1049.06" y="579.89" font-size="13.20" font-weight="normal" fill="#ff0000">6</text><text x="1098.69" y="579.89" font-size="13.20" font-weight="normal" fill="#ff0000">6</text><text x="1148.33" y="579.82" font-size="13.20" font-weight="normal" fill="#ff0000">5</text><text x="1197.97" y="579.89" font-size="13.20" font-weight="normal" fill="#ff0000">3</text><text x="1247.60" y="579.89" font-size="13.20" font-weight="normal" fill="#ff0000">3</text><text x="1297.24" y="579.89" font-size="13.20" font-weight="normal" fill="#ff0000">3</text><text x="1346.87" y="579.95" font-size="13.20" font-weight="normal" fill="#ff0000">2</text><path d="M372,0 L284,0 L284,458 L109,458 L109,520 Q196,524 236,562 Q272,598 284,688 L372,688 Z" fill="#ff0000" transform="matrix(0.01320 0 0 -0.01320 1396.51 579.88)"/><text x="900.15" y="604.13" font-size="13.20" font-weight="normal" fill="#ff0000">2</text><path d="M372,0 L284,0 L284,458 L109,458 L109,520 Q196,524 236,562 Q272,598 284,688 L372,688 Z" fill="#ff0000" transform="matrix(0.01320 0 0 -0.01320 949.78 604.06)"/><text x="999.42" y="604.13" font-size="13.20" font-weight="normal" fill="#ff0000">2</text><text x="1049.06" y="604.13" font-size="13.20" font-weight="normal" fill="#ff0000">2</text><path d="M372,0 L284,0 L284,458 L109,458 L109,520 Q196,524 236,562 Q272,598 284,688 L372,688 Z" fill="#ff0000" transform="matrix(0.01320 0 0 -0.01320 1098.69 604.06)"/><text x="1197.97" y="604.13" font-size="13.20" font-weight="normal" fill="#ff0000">2</text><path d="M372,0 L284,0 L284,458 L109,458 L109,520 Q196,524 236,562 Q272,598 284,688 L372,688 Z" fill="#ff0000" transform="matrix(0.01320 0 0 -0.01320 1247.60 604.06)"/><text x="900.15" y="628.30" font-size="13.20" font-weight="normal" fill="#ff0000">2</text><path d="M372,0 L284,0 L284,458 L109,458 L109,520 Q196,524 236,562 Q272,598 284,688 L372,688 Z" fill="#ff0000" transform="matrix(0.01320 0 0 -0.01320 949.78 628.23)"/><path d="M372,0 L284,0 L284,458 L109,458 L109,520 Q196,524 236,562 Q272,598 284,688 L372,688 Z" fill="#ff0000" transform="matrix(0.01320 0 0 -0.01320 999.42 628.23)"/><path d="M372,0 L284,0 L284,458 L109,458 L109,520 Q196,524 236,562 Q272,598 284,688 L372,688 Z" fill="#ff0000" transform="matrix(0.01320 0 0 -0.01320 1098.69 628.23)"/><path d="M372,0 L284,0 L284,458 L109,458 L109,520 Q196,524 236,562 Q272,598 284,688 L372,688 Z" fill="#ff0000" transform="matrix(0.01320 0 0 -0.01320 1148.33 628.23)"/><text x="896.48" y="652.41" font-size="13.20" font-weight="normal" fill="#ff0000">70</text><text x="949.78" y="652.41" font-size="13.20" font-weight="normal" fill="#ff0000">9</text><text x="999.42" y="652.41" font-size="13.20" font-weight="normal" fill="#ff0000">9</text><text x="1049.06" y="652.41" font-size="13.20" font-weight="normal" fill="#ff0000">3</text><path d="M372,0 L284,0 L284,458 L109,458 L109,520 Q196,524 236,562 Q272,598 284,688 L372,688 Z" fill="#ff0000" transform="matrix(0.01320 0 0 -0.01320 1098.69 652.41)"/><path d="M372,0 L284,0 L284,458 L109,458 L109,520 Q196,524 236,562 Q272,598 284,688 L372,688 Z" fill="#ff0000" transform="matrix(0.01320 0 0 -0.01320 1148.33 652.41)"/><path d="M372,0 L284,0 L284,458 L109,458 L109,520 Q196,524 236,562 Q272,598 284,688 L372,688 Z" fill="#ff0000" transform="matrix(0.01320 0 0 -0.01320 1197.97 652.41)"/><path d="M372,0 L284,0 L284,458 L109,458 L109,520 Q196,524 236,562 Q272,598 284,688 L372,688 Z" fill="#ff0000" transform="matrix(0.01320 0 0 -0.01320 1247.60 652.41)"/><path d="M372,0 L284,0 L284,458 L109,458 L109,520 Q196,524 236,562 Q272,598 284,688 L372,688 Z" fill="#ff0000" transform="matrix(0.01320 0 0 -0.01320 1346.87 652.41)"/><text x="900.15" y="676.59" font-size="13.20" font-weight="normal" fill="#ff0000">8</text><text x="949.78" y="676.59" font-size="13.20" font-weight="normal" fill="#ff0000">4</text><text x="999.42" y="676.59" font-size="13.20" font-weight="normal" fill="#ff0000">3</text><text x="1049.06" y="676.59" font-size="13.20" font-weight="normal" fill="#ff0000">3</text><path d="M372,0 L284,0 L284,458 L109,458 L109,520 Q196,524 236,562 Q272,598 284,688 L372,688 Z" fill="#ff0000" transform="matrix(0.01320 0 0 -0.01320 1098.69 676.59)"/><path d="M372,0 L284,0 L284,458 L109,458 L109,520 Q196,524 236,562 Q272,598 284,688 L372,688 Z" fill="#ff0000" transform="matrix(0.01320 0 0 -0.01320 1148.33 676.59)"/><path d="M372,0 L284,0 L284,458 L109,458 L109,520 Q196,524 236,562 Q272,598 284,688 L372,688 Z" fill="#ff0000" transform="matrix(0.01320 0 0 -0.01320 1247.60 676.59)"/><path d="M372,0 L284,0 L284,458 L109,458 L109,520 Q196,524 236,562 Q272,598 284,688 L372,688 Z" fill="#ff0000" transform="matrix(0.01320 0 0 -0.01320 1346.87 676.59)"/><path d="M372,0 L284,0 L284,458 L109,458 L109,520 Q196,524 236,562 Q272,598 284,688 L372,688 Z" fill="#ff0000" transform="matrix(0.01320 0 0 -0.01320 900.15 700.76)"/><path d="M372,0 L284,0 L284,458 L109,458 L109,520 Q196,524 236,562 Q272,598 284,688 L372,688 Z" fill="#ff0000" transform="matrix(0.01320 0 0 -0.01320 949.78 700.76)"/><text x="1098.69" y="700.83" font-size="13.20" font-weight="normal" fill="#ff0000">2</text><text x="1148.33" y="700.77" font-size="13.20" font-weight="normal" fill="#ff0000">6</text><text x="1197.97" y="700.83" font-size="13.20" font-weight="normal" fill="#ff0000">2</text><text x="1247.60" y="700.77" font-size="13.20" font-weight="normal" fill="#ff0000">3</text><text x="1297.24" y="700.77" font-size="13.20" font-weight="normal" fill="#ff0000">3</text><path d="M372,0 L284,0 L284,458 L109,458 L109,520 Q196,524 236,562 Q272,598 284,688 L372,688 Z" fill="#ff0000" transform="matrix(0.01320 0 0 -0.01320 1346.87 700.76)"/><path d="M372,0 L284,0 L284,458 L109,458 L109,520 Q196,524 236,562 Q272,598 284,688 L372,688 Z" fill="#ff0000" transform="matrix(0.01320 0 0 -0.01320 1396.51 700.76)"/><text x="900.15" y="724.94" font-size="13.20" font-weight="normal" fill="#ff0000">7</text><text x="949.78" y="724.94" font-size="13.20" font-weight="normal" fill="#ff0000">7</text><path d="M372,0 L284,0 L284,458 L109,458 L109,520 Q196,524 236,562 Q272,598 284,688 L372,688 Z" fill="#ff0000" transform="matrix(0.01320 0 0 -0.01320 995.75 725.01)"/><text x="1003.09" y="725.01" font-size="13.20" font-weight="normal" fill="#ff0000">2</text><path d="M372,0 L284,0 L284,458 L109,458 L109,520 Q196,524 236,562 Q272,598 284,688 L372,688 Z" fill="#ff0000" transform="matrix(0.01320 0 0 -0.01320 1045.39 724.94)"/><text x="1052.73" y="724.94" font-size="13.20" font-weight="normal" fill="#ff0000">0</text><path d="M372,0 L284,0 L284,458 L109,458 L109,520 Q196,524 236,562 Q272,598 284,688 L372,688 Z" fill="#ff0000" transform="matrix(0.01320 0 0 -0.01320 1095.02 724.94)"/><text x="1102.36" y="724.94" font-size="13.20" font-weight="normal" fill="#ff0000">4</text><path d="M372,0 L284,0 L284,458 L109,458 L109,520 Q196,524 236,562 Q272,598 284,688 L372,688 Z" fill="#ff0000" transform="matrix(0.01320 0 0 -0.01320 1144.66 724.94)"/><text x="1152.00" y="724.94" font-size="13.20" font-weight="normal" fill="#ff0000">4</text><text x="1197.97" y="724.94" font-size="13.20" font-weight="normal" fill="#ff0000">8</text><text x="1247.60" y="724.94" font-size="13.20" font-weight="normal" fill="#ff0000">6</text><text x="1297.24" y="724.94" font-size="13.20" font-weight="normal" fill="#ff0000">4</text><text x="1346.87" y="725.01" font-size="13.20" font-weight="normal" fill="#ff0000">2</text><path d="M372,0 L284,0 L284,458 L109,458 L109,520 Q196,524 236,562 Q272,598 284,688 L372,688 Z" fill="#ff0000" transform="matrix(0.01320 0 0 -0.01320 1396.51 724.94)"/><text x="896.48" y="749.12" font-size="13.20" font-weight="normal" fill="#ff0000">28</text><text x="946.11" y="749.12" font-size="13.20" font-weight="normal" fill="#ff0000">37</text><text x="995.75" y="749.12" font-size="13.20" font-weight="normal" fill="#ff0000">62</text><text x="1045.39" y="749.12" font-size="13.20" font-weight="normal" fill="#ff0000">30</text><text x="1095.02" y="749.12" font-size="13.20" font-weight="normal" fill="#ff0000">37</text><text x="1144.66" y="749.12" font-size="13.20" font-weight="normal" fill="#ff0000">23</text><path d="M372,0 L284,0 L284,458 L109,458 L109,520 Q196,524 236,562 Q272,598 284,688 L372,688 Z" fill="#ff0000" transform="matrix(0.01320 0 0 -0.01320 1194.30 749.12)"/><text x="1201.64" y="749.12" font-size="13.20" font-weight="normal" fill="#ff0000">3</text><text x="1247.60" y="749.12" font-size="13.20" font-weight="normal" fill="#ff0000">8</text><text x="1297.24" y="749.05" font-size="13.20" font-weight="normal" fill="#ff0000">5</text><text x="1346.87" y="749.12" font-size="13.20" font-weight="normal" fill="#ff0000">3</text><path d="M372,0 L284,0 L284,458 L109,458 L109,520 Q196,524 236,562 Q272,598 284,688 L372,688 Z" fill="#ff0000" transform="matrix(0.01320 0 0 -0.01320 1396.51 749.12)"/><text x="900.15" y="773.30" font-size="13.20" font-weight="normal" fill="#ff0000">6</text><text x="949.78" y="773.23" font-size="13.20" font-weight="normal" fill="#ff0000">5</text><path d="M372,0 L284,0 L284,458 L109,458 L109,520 Q196,524 236,562 Q272,598 284,688 L372,688 Z" fill="#ff0000" transform="matrix(0.01320 0 0 -0.01320 995.75 773.30)"/><text x="1003.09" y="773.30" font-size="13.20" font-weight="normal" fill="#ff0000">3</text><path d="M372,0 L284,0 L284,458 L109,458 L109,520 Q196,524 236,562 Q272,598 284,688 L372,688 Z" fill="#ff0000" transform="matrix(0.01320 0 0 -0.01320 1045.39 773.23)"/><text x="1052.73" y="773.23" font-size="13.20" font-weight="normal" fill="#ff0000">5</text><path d="M372,0 L284,0 L284,458 L109,458 L109,520 Q196,524 236,562 Q272,598 284,688 L372,688 Z" fill="#ff0000" transform="matrix(0.01320 0 0 -0.01320 1095.02 773.30)"/><text x="1102.36" y="773.30" font-size="13.20" font-weight="normal" fill="#ff0000">9</text><path d="M372,0 L284,0 L284,458 L109,458 L109,520 Q196,524 236,562 Q272,598 284,688 L372,688 Z" fill="#ff0000" transform="matrix(0.01320 0 0 -0.01320 1144.66 773.29)"/><text x="1152.00" y="773.29" font-size="13.20" font-weight="normal" fill="#ff0000">7</text><path d="M372,0 L284,0 L284,458 L109,458 L109,520 Q196,524 236,562 Q272,598 284,688 L372,688 Z" fill="#ff0000" transform="matrix(0.01320 0 0 -0.01320 1194.30 773.30)"/><text x="1201.64" y="773.30" font-size="13.20" font-weight="normal" fill="#ff0000">3</text><text x="1247.60" y="773.30" font-size="13.20" font-weight="normal" fill="#ff0000">8</text><text x="1297.24" y="773.29" font-size="13.20" font-weight="normal" fill="#ff0000">4</text><text x="1346.87" y="773.36" font-size="13.20" font-weight="normal" fill="#ff0000">2</text><path d="M372,0 L284,0 L284,458 L109,458 L109,520 Q196,524 236,562 Q272,598 284,688 L372,688 Z" fill="#ff0000" transform="matrix(0.01320 0 0 -0.01320 1396.51 773.29)"/><text x="896.48" y="797.47" font-size="13.20" font-weight="normal" fill="#ff0000">29</text><text x="946.11" y="797.47" font-size="13.20" font-weight="normal" fill="#ff0000">37</text><text x="995.75" y="797.47" font-size="13.20" font-weight="normal" fill="#ff0000">29</text><text x="1045.39" y="797.54" font-size="13.20" font-weight="normal" fill="#ff0000">2</text><path d="M372,0 L284,0 L284,458 L109,458 L109,520 Q196,524 236,562 Q272,598 284,688 L372,688 Z" fill="#ff0000" transform="matrix(0.01320 0 0 -0.01320 1052.73 797.54)"/><text x="1095.02" y="797.54" font-size="13.20" font-weight="normal" fill="#ff0000">27</text><text x="1144.66" y="797.47" font-size="13.20" font-weight="normal" fill="#ff0000">25</text><path d="M372,0 L284,0 L284,458 L109,458 L109,520 Q196,524 236,562 Q272,598 284,688 L372,688 Z" fill="#ff0000" transform="matrix(0.01320 0 0 -0.01320 1194.30 797.47)"/><text x="1201.64" y="797.47" font-size="13.20" font-weight="normal" fill="#ff0000">4</text><text x="1247.60" y="797.47" font-size="13.20" font-weight="normal" fill="#ff0000">7</text><text x="1297.24" y="797.41" font-size="13.20" font-weight="normal" fill="#ff0000">5</text><text x="1346.87" y="797.47" font-size="13.20" font-weight="normal" fill="#ff0000">3</text><path d="M372,0 L284,0 L284,458 L109,458 L109,520 Q196,524 236,562 Q272,598 284,688 L372,688 Z" fill="#ff0000" transform="matrix(0.01320 0 0 -0.01320 1396.51 797.47)"/><text x="896.48" y="821.65" font-size="13.20" font-weight="normal" fill="#ff0000">26</text><text x="946.11" y="821.71" font-size="13.20" font-weight="normal" fill="#ff0000">42</text><text x="995.75" y="821.65" font-size="13.20" font-weight="normal" fill="#ff0000">36</text><text x="1045.39" y="821.71" font-size="13.20" font-weight="normal" fill="#ff0000">24</text><text x="1095.02" y="821.65" font-size="13.20" font-weight="normal" fill="#ff0000">23</text><text x="1144.66" y="821.71" font-size="13.20" font-weight="normal" fill="#ff0000">2</text><path d="M372,0 L284,0 L284,458 L109,458 L109,520 Q196,524 236,562 Q272,598 284,688 L372,688 Z" fill="#ff0000" transform="matrix(0.01320 0 0 -0.01320 1152.00 821.71)"/><path d="M372,0 L284,0 L284,458 L109,458 L109,520 Q196,524 236,562 Q272,598 284,688 L372,688 Z" fill="#ff0000" transform="matrix(0.01320 0 0 -0.01320 1194.30 821.65)"/><path d="M372,0 L284,0 L284,458 L109,458 L109,520 Q196,524 236,562 Q272,598 284,688 L372,688 Z" fill="#ff0000" transform="matrix(0.01320 0 0 -0.01320 1201.64 821.65)"/><text x="1247.60" y="821.65" font-size="13.20" font-weight="normal" fill="#ff0000">7</text><text x="1297.24" y="821.58" font-size="13.20" font-weight="normal" fill="#ff0000">5</text><text x="1346.87" y="821.65" font-size="13.20" font-weight="normal" fill="#ff0000">3</text><path d="M372,0 L284,0 L284,458 L109,458 L109,520 Q196,524 236,562 Q272,598 284,688 L372,688 Z" fill="#ff0000" transform="matrix(0.01320 0 0 -0.01320 1396.51 821.65)"/><path d="M372,0 L284,0 L284,458 L109,458 L109,520 Q196,524 236,562 Q272,598 284,688 L372,688 Z" fill="#ff0000" transform="matrix(0.01320 0 0 -0.01320 892.81 845.83)"/><text x="900.15" y="845.83" font-size="13.20" font-weight="normal" fill="#ff0000">52</text><path d="M372,0 L284,0 L284,458 L109,458 L109,520 Q196,524 236,562 Q272,598 284,688 L372,688 Z" fill="#ff0000" transform="matrix(0.01320 0 0 -0.01320 942.44 845.83)"/><text x="949.78" y="845.83" font-size="13.20" font-weight="normal" fill="#ff0000">05</text><text x="995.75" y="845.83" font-size="13.20" font-weight="normal" fill="#ff0000">82</text><text x="1045.39" y="845.83" font-size="13.20" font-weight="normal" fill="#ff0000">40</text><text x="1095.02" y="845.83" font-size="13.20" font-weight="normal" fill="#ff0000">33</text><text x="1144.66" y="845.83" font-size="13.20" font-weight="normal" fill="#ff0000">29</text><path d="M372,0 L284,0 L284,458 L109,458 L109,520 Q196,524 236,562 Q272,598 284,688 L372,688 Z" fill="#ff0000" transform="matrix(0.01320 0 0 -0.01320 1194.30 845.82)"/><text x="1201.64" y="845.82" font-size="13.20" font-weight="normal" fill="#ff0000">4</text><text x="1247.60" y="845.82" font-size="13.20" font-weight="normal" fill="#ff0000">7</text><text x="1297.24" y="845.76" font-size="13.20" font-weight="normal" fill="#ff0000">5</text><text x="1346.87" y="845.83" font-size="13.20" font-weight="normal" fill="#ff0000">3</text><path d="M372,0 L284,0 L284,458 L109,458 L109,520 Q196,524 236,562 Q272,598 284,688 L372,688 Z" fill="#ff0000" transform="matrix(0.01320 0 0 -0.01320 1396.51 845.82)"/><text x="896.48" y="870.00" font-size="13.20" font-weight="normal" fill="#ff0000">50</text><text x="946.11" y="870.00" font-size="13.20" font-weight="normal" fill="#ff0000">6</text><path d="M372,0 L284,0 L284,458 L109,458 L109,520 Q196,524 236,562 Q272,598 284,688 L372,688 Z" fill="#ff0000" transform="matrix(0.01320 0 0 -0.01320 953.45 870.00)"/><text x="995.75" y="870.00" font-size="13.20" font-weight="normal" fill="#ff0000">59</text><text x="1045.39" y="870.00" font-size="13.20" font-weight="normal" fill="#ff0000">36</text><text x="1095.02" y="870.00" font-size="13.20" font-weight="normal" fill="#ff0000">32</text><text x="1144.66" y="870.00" font-size="13.20" font-weight="normal" fill="#ff0000">25</text><path d="M372,0 L284,0 L284,458 L109,458 L109,520 Q196,524 236,562 Q272,598 284,688 L372,688 Z" fill="#ff0000" transform="matrix(0.01320 0 0 -0.01320 1194.30 870.00)"/><text x="1201.64" y="870.00" font-size="13.20" font-weight="normal" fill="#ff0000">3</text><text x="1247.60" y="870.00" font-size="13.20" font-weight="normal" fill="#ff0000">7</text><text x="1297.24" y="869.94" font-size="13.20" font-weight="normal" fill="#ff0000">5</text><text x="1346.87" y="870.00" font-size="13.20" font-weight="normal" fill="#ff0000">3</text><path d="M372,0 L284,0 L284,458 L109,458 L109,520 Q196,524 236,562 Q272,598 284,688 L372,688 Z" fill="#ff0000" transform="matrix(0.01320 0 0 -0.01320 1396.51 870.00)"/><path d="M372,0 L284,0 L284,458 L109,458 L109,520 Q196,524 236,562 Q272,598 284,688 L372,688 Z" fill="#ff0000" transform="matrix(0.01320 0 0 -0.01320 896.48 894.18)"/><text x="903.82" y="894.18" font-size="13.20" font-weight="normal" fill="#ff0000">4</text><text x="949.78" y="894.18" font-size="13.20" font-weight="normal" fill="#ff0000">6</text><text x="999.42" y="894.18" font-size="13.20" font-weight="normal" fill="#ff0000">7</text><text x="1049.06" y="894.18" font-size="13.20" font-weight="normal" fill="#ff0000">4</text><text x="1098.69" y="894.18" font-size="13.20" font-weight="normal" fill="#ff0000">3</text><text x="1148.33" y="894.18" font-size="13.20" font-weight="normal" fill="#ff0000">4</text><text x="1197.97" y="894.18" font-size="13.20" font-weight="normal" fill="#ff0000">7</text><path d="M372,0 L284,0 L284,458 L109,458 L109,520 Q196,524 236,562 Q272,598 284,688 L372,688 Z" fill="#ff0000" transform="matrix(0.01320 0 0 -0.01320 1247.60 894.18)"/><text x="1297.24" y="894.18" font-size="13.20" font-weight="normal" fill="#ff0000">3</text><text x="1346.87" y="894.24" font-size="13.20" font-weight="normal" fill="#ff0000">2</text><path d="M372,0 L284,0 L284,458 L109,458 L109,520 Q196,524 236,562 Q272,598 284,688 L372,688 Z" fill="#ff0000" transform="matrix(0.01320 0 0 -0.01320 1396.51 894.18)"/><path d="M372,0 L284,0 L284,458 L109,458 L109,520 Q196,524 236,562 Q272,598 284,688 L372,688 Z" fill="#ff0000" transform="matrix(0.01320 0 0 -0.01320 900.15 918.35)"/><text x="949.78" y="918.42" font-size="13.20" font-weight="normal" fill="#ff0000">2</text><path d="M372,0 L284,0 L284,458 L109,458 L109,520 Q196,524 236,562 Q272,598 284,688 L372,688 Z" fill="#ff0000" transform="matrix(0.01320 0 0 -0.01320 999.42 918.35)"/><text x="1148.33" y="918.36" font-size="13.20" font-weight="normal" fill="#ff0000">3</text><path d="M372,0 L284,0 L284,458 L109,458 L109,520 Q196,524 236,562 Q272,598 284,688 L372,688 Z" fill="#ff0000" transform="matrix(0.01320 0 0 -0.01320 1247.60 918.35)"/><path d="M372,0 L284,0 L284,458 L109,458 L109,520 Q196,524 236,562 Q272,598 284,688 L372,688 Z" fill="#ff0000" transform="matrix(0.01320 0 0 -0.01320 1297.24 918.35)"/><path d="M372,0 L284,0 L284,458 L109,458 L109,520 Q196,524 236,562 Q272,598 284,688 L372,688 Z" fill="#ff0000" transform="matrix(0.01320 0 0 -0.01320 1346.87 918.35)"/>
<rect x="879" y="516" width="546" height="411" fill="none" stroke="#000" stroke-width="2"/>
<path d="M873,914.91H879M873,890.74H879M873,866.56H879M873,842.38H879M873,818.21H879M873,794.03H879M873,769.85H879M873,745.68H879M873,721.50H879M873,697.32H879M873,673.15H879M873,648.97H879M873,624.79H879M873,600.62H879M873,576.44H879M873,552.26H879M873,528.09H879M903.82,927V933.5M953.45,927V933.5M1003.09,927V933.5M1052.73,927V933.5M1102.36,927V933.5M1152.00,927V933.5M1201.64,927V933.5M1251.27,927V933.5M1300.91,927V933.5M1350.55,927V933.5M1400.18,927V933.5" stroke="#000" stroke-width="1.3" fill="none"/>
<path d="M372,0 L284,0 L284,458 L109,458 L109,520 Q196,524 236,562 Q272,598 284,688 L372,688 Z" fill="#000" transform="matrix(0.01960 0 0 -0.01960 856.40 922.05)"/>
<text x="856.40" y="897.98" font-size="19.60" font-weight="normal" fill="#000">2</text>
<text x="856.40" y="873.71" font-size="19.60" font-weight="normal" fill="#000">3</text>
<text x="856.40" y="849.52" font-size="19.60" font-weight="normal" fill="#000">4</text>
<text x="856.40" y="825.25" font-size="19.60" font-weight="normal" fill="#000">5</text>
<text x="856.40" y="801.18" font-size="19.60" font-weight="normal" fill="#000">6</text>
<text x="856.40" y="777.00" font-size="19.60" font-weight="normal" fill="#000">7</text>
<text x="856.40" y="752.82" font-size="19.60" font-weight="normal" fill="#000">8</text>
<text x="856.40" y="728.65" font-size="19.60" font-weight="normal" fill="#000">9</text>
<path d="M372,0 L284,0 L284,458 L109,458 L109,520 Q196,524 236,562 Q272,598 284,688 L372,688 Z" fill="#000" transform="matrix(0.01960 0 0 -0.01960 845.50 704.47)"/><text x="856.40" y="704.47" font-size="19.60" font-weight="normal" fill="#000">0</text>
<path d="M372,0 L284,0 L284,458 L109,458 L109,520 Q196,524 236,562 Q272,598 284,688 L372,688 Z" fill="#000" transform="matrix(0.01960 0 0 -0.01960 845.50 680.29)"/><path d="M372,0 L284,0 L284,458 L109,458 L109,520 Q196,524 236,562 Q272,598 284,688 L372,688 Z" fill="#000" transform="matrix(0.01960 0 0 -0.01960 856.40 680.29)"/>
<path d="M372,0 L284,0 L284,458 L109,458 L109,520 Q196,524 236,562 Q272,598 284,688 L372,688 Z" fill="#000" transform="matrix(0.01960 0 0 -0.01960 845.50 656.21)"/><text x="856.40" y="656.21" font-size="19.60" font-weight="normal" fill="#000">2</text>
<path d="M372,0 L284,0 L284,458 L109,458 L109,520 Q196,524 236,562 Q272,598 284,688 L372,688 Z" fill="#000" transform="matrix(0.01960 0 0 -0.01960 845.50 631.94)"/><text x="856.40" y="631.94" font-size="19.60" font-weight="normal" fill="#000">3</text>
<path d="M372,0 L284,0 L284,458 L109,458 L109,520 Q196,524 236,562 Q272,598 284,688 L372,688 Z" fill="#000" transform="matrix(0.01960 0 0 -0.01960 845.50 607.76)"/><text x="856.40" y="607.76" font-size="19.60" font-weight="normal" fill="#000">4</text>
<path d="M372,0 L284,0 L284,458 L109,458 L109,520 Q196,524 236,562 Q272,598 284,688 L372,688 Z" fill="#000" transform="matrix(0.01960 0 0 -0.01960 845.50 583.49)"/><text x="856.40" y="583.49" font-size="19.60" font-weight="normal" fill="#000">5</text>
<path d="M372,0 L284,0 L284,458 L109,458 L109,520 Q196,524 236,562 Q272,598 284,688 L372,688 Z" fill="#000" transform="matrix(0.01960 0 0 -0.01960 845.50 559.41)"/><text x="856.40" y="559.41" font-size="19.60" font-weight="normal" fill="#000">6</text>
<path d="M372,0 L284,0 L284,458 L109,458 L109,520 Q196,524 236,562 Q272,598 284,688 L372,688 Z" fill="#000" transform="matrix(0.01960 0 0 -0.01960 845.50 535.23)"/><text x="856.40" y="535.23" font-size="19.60" font-weight="normal" fill="#000">7</text>
<path d="M372,0 L284,0 L284,458 L109,458 L109,520 Q196,524 236,562 Q272,598 284,688 L372,688 Z" fill="#000" transform="matrix(0.01960 0 0 -0.01960 898.37 953.24)"/>
<text x="948.00" y="953.34" font-size="19.60" font-weight="normal" fill="#000">2</text>
<text x="997.64" y="953.25" font-size="19.60" font-weight="normal" fill="#000">3</text>
<text x="1047.28" y="953.24" font-size="19.60" font-weight="normal" fill="#000">4</text>
<text x="1096.91" y="953.15" font-size="19.60" font-weight="normal" fill="#000">5</text>
<text x="1146.55" y="953.25" font-size="19.60" font-weight="normal" fill="#000">6</text>
<text x="1196.19" y="953.24" font-size="19.60" font-weight="normal" fill="#000">7</text>
<text x="1245.82" y="953.25" font-size="19.60" font-weight="normal" fill="#000">8</text>
<text x="1295.46" y="953.25" font-size="19.60" font-weight="normal" fill="#000">9</text>
<path d="M372,0 L284,0 L284,458 L109,458 L109,520 Q196,524 236,562 Q272,598 284,688 L372,688 Z" fill="#000" transform="matrix(0.01960 0 0 -0.01960 1339.64 953.25)"/><text x="1350.55" y="953.25" font-size="19.60" font-weight="normal" fill="#000">0</text>
<path d="M372,0 L284,0 L284,458 L109,458 L109,520 Q196,524 236,562 Q272,598 284,688 L372,688 Z" fill="#000" transform="matrix(0.01960 0 0 -0.01960 1389.28 953.24)"/><path d="M372,0 L284,0 L284,458 L109,458 L109,520 Q196,524 236,562 Q272,598 284,688 L372,688 Z" fill="#000" transform="matrix(0.01960 0 0 -0.01960 1400.18 953.24)"/>
<text x="1060.25" y="981.35" font-size="26.00" font-weight="normal" fill="#000">Co-occurrences</text>
<g transform="translate(835.2,723.50) rotate(-90)"><text x="-47.09" y="0" font-size="26.0">Stations</text></g>
</svg></body></html>
